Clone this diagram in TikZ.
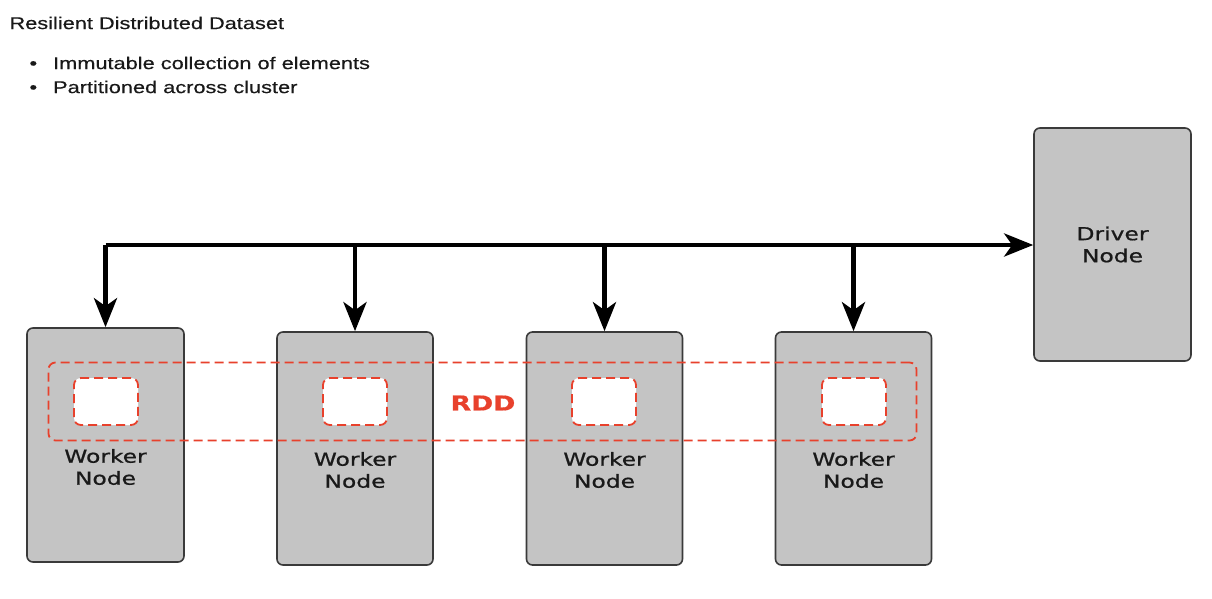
\documentclass[tikz,border=0pt]{standalone}
\usepackage{fontspec}
\setmainfont{Liberation Sans}[FakeStretch=1.28, FakeBold=0.4]
\newfontfamily\boxfont{DejaVu Sans}[FakeStretch=1.3, FakeBold=0.8]
\usetikzlibrary{arrows.meta,positioning}
\definecolor{boxgray}{HTML}{C4C4C4}
\definecolor{boxline}{HTML}{3A3A3A}
\definecolor{rddred}{HTML}{E8412C}
\tikzset{
  machine/.style={draw=boxline, line width=1.6pt, fill=boxgray, rounded corners=6pt, inner sep=0pt},
  rddline/.style={draw=rddred, line width=1.8pt, dash pattern=on 9pt off 5pt, rounded corners=7pt, inner sep=0pt},
  bus/.style={line width=4.8pt, -{Stealth[length=29pt, width=23pt, inset=8pt]}},
  machinetext/.style={font=\boxfont\fontsize{18}{22}\selectfont, align=center, text=black!90},
  headtext/.style={anchor=west, font=\fontsize{17}{20}\selectfont, text=black!90}
}
\begin{document}
\begin{tikzpicture}[x=1pt, y=-1pt]
        \useasboundingbox[fill=white] (0,0) rectangle (1212,599);

        % Title and bullets
        \node[headtext] (title) at (6, 23) {Resilient Distributed Dataset};
        \node[headtext] (item1) at (26, 63) {\textbullet\hspace{16pt}Immutable collection of elements};
        \node[headtext] (item2) at (26, 87) {\textbullet\hspace{16pt}Partitioned across cluster};

        % Driver node
        \node[machine, minimum width=157pt, minimum height=233pt] (driver) at (1112.5, 244.5) {};
        \node[machinetext] at (1112.5, 244.5) {Driver\\Node};

        % Worker nodes
        \node[machine, minimum width=157pt, minimum height=234pt] (w1) at (105.5, 445) {};
        \node[machine, minimum width=156pt, minimum height=233pt] (w2) at (355, 448.5) {};
        \node[machine, minimum width=156pt, minimum height=233pt] (w3) at (604.5, 448.5) {};
        \node[machine, minimum width=156pt, minimum height=233pt] (w4) at (853.5, 448.5) {};
        \node[machinetext] at (105.5, 467) {Worker\\Node};
        \node[machinetext] at (355, 470) {Worker\\Node};
        \node[machinetext] at (604.5, 470) {Worker\\Node};
        \node[machinetext] at (853.5, 470) {Worker\\Node};

        % Bus towards driver
        \coordinate (b1) at (105.5, 245);
        \coordinate (b2) at (355, 245);
        \coordinate (b3) at (604.5, 245);
        \coordinate (b4) at (853.5, 245);
        \draw[bus] (b1) -- (driver.west |- b1);
        \draw[bus] (b1) -- (w1.north);
        \draw[bus] (b2) -- (w2.north);
        \draw[bus] (b3) -- (w3.north);
        \draw[bus] (b4) -- (w4.north);

        % RDD across workers
        \node[rddline, minimum width=868pt, minimum height=78pt] (rdd) at (482.5, 401.5) {};
        \node[font=\boxfont\bfseries\fontsize{20.5}{24}\selectfont, text=rddred] (rddlabel) at (483, 403) {RDD};

        % Partitions
        \node[rddline, fill=white, minimum width=64pt, minimum height=47pt] (p1) at (106, 401.5) {};
        \node[rddline, fill=white, minimum width=64pt, minimum height=47pt] (p2) at (355, 401.5) {};
        \node[rddline, fill=white, minimum width=64pt, minimum height=47pt] (p3) at (604, 401.5) {};
        \node[rddline, fill=white, minimum width=64pt, minimum height=47pt] (p4) at (854, 401.5) {};

    \end{tikzpicture}
\end{document}
